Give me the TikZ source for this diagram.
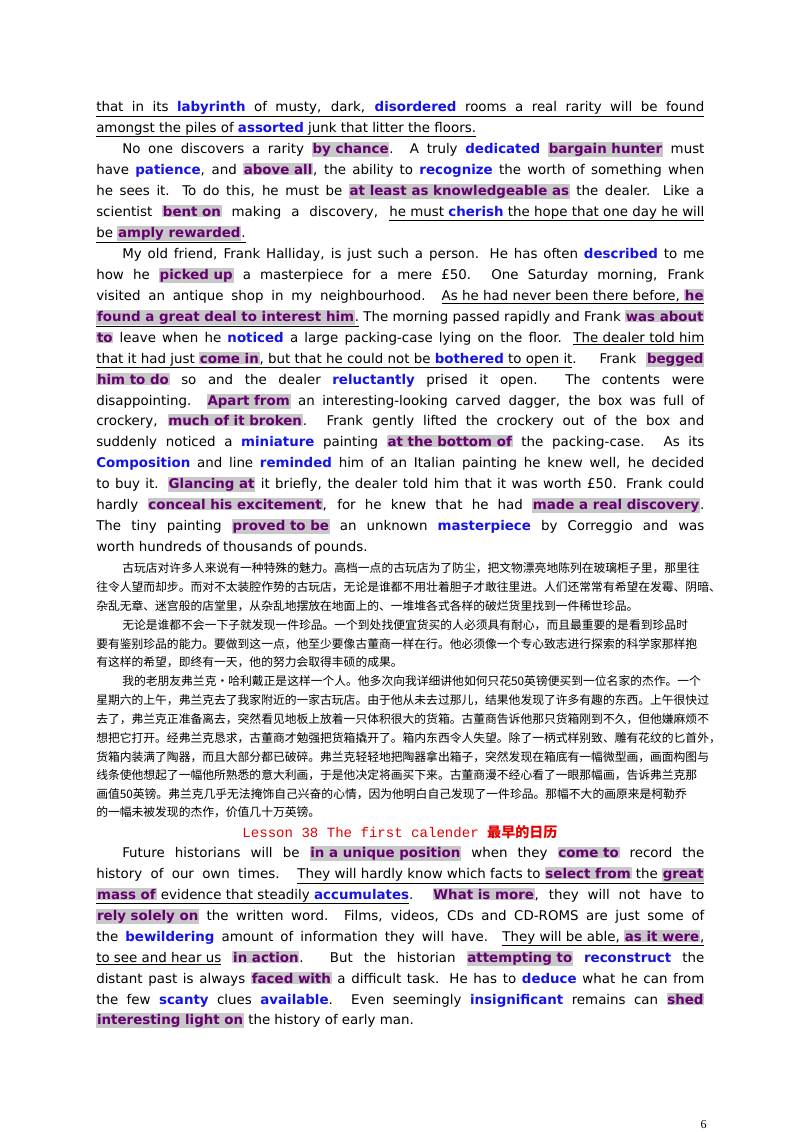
\documentclass[tikz,border=0pt]{standalone}
\usepackage{fontspec}
\usepackage{xcolor}
\setmainfont{DejaVu Sans}
\newfontfamily\cjk{Noto Sans CJK SC}
\newfontfamily\mono{Liberation Mono}
\newfontfamily\pgnum{Liberation Serif}
\definecolor{kwblue}{RGB}{20,20,230}
\definecolor{hlpurple}{RGB}{100,0,110}
\definecolor{hlgray}{RGB}{200,200,200}
\definecolor{headred}{RGB}{230,0,0}
\setlength{\fboxsep}{0.6pt}
\newcommand\kw[1]{\textcolor{kwblue}{\textbf{#1}}}
\newcommand\hlt[1]{\colorbox{hlgray}{\textcolor{hlpurple}{\textbf{#1}}}}
\newcommand\uln[1]{$\underline{\hbox{#1}}$}
\newcommand\fl[1]{\makebox[15.96cm][s]{#1}}
\newcommand\il[1]{\makebox[15.28cm][s]{#1}}
\newcommand\cl[1]{\makebox[15.96cm][s]{\XeTeXlinebreaklocale "zh"\XeTeXlinebreakskip=0pt plus 3pt minus 0.3pt #1}}
\newcommand\ci[1]{\makebox[15.28cm][s]{\XeTeXlinebreaklocale "zh"\XeTeXlinebreakskip=0pt plus 3pt minus 0.3pt #1}}
\tikzset{
  eng/.style={anchor=base west, inner sep=0pt, font=\fontsize{10}{12}\selectfont},
  chn/.style={anchor=base west, inner sep=0pt, font=\cjk\fontsize{8.8}{10}\selectfont},
  head/.style={anchor=base, inner sep=0pt, text=headred, font=\mono\fontsize{10.5}{12}\selectfont},
}
\begin{document}
\begin{tikzpicture}[x=0.02625cm, y=-0.02625cm]
  \useasboundingbox[fill=white] (0,0) rectangle (800,1132);

  % first English passage
  \node[eng] (e1) at (96,111) {\uln{\fl{that in its \kw{labyrinth} of musty, dark, \kw{disordered} rooms a real rarity will be found}}};
  \node[eng] (e2) at (96,132) {\uln{amongst the piles of \kw{assorted} junk that litter the floors.}};
  \node[eng] (e3) at (122,153) {\il{No one discovers a rarity \hlt{by chance}. A truly \kw{dedicated} \hlt{bargain hunter} must}};
  \node[eng] (e4) at (96,174) {\fl{have \kw{patience}, and \hlt{above all}, the ability to \kw{recognize} the worth of something when}};
  \node[eng] (e5) at (96,195) {\fl{he sees it. To do this, he must be \hlt{at least as knowledgeable as} the dealer. Like a}};
  \node[eng] (e6) at (96,216) {\fl{scientist \hlt{bent on} making a discovery, \uln{he must \kw{cherish} the hope that one day he will}}};
  \node[eng] (e7) at (96,237) {\uln{be \hlt{amply rewarded}.}};
  \node[eng] (e8) at (122,258) {\il{My old friend, Frank Halliday, is just such a person. He has often \kw{described} to me}};
  \node[eng] (e9) at (96,279) {\fl{how he \hlt{picked up} a masterpiece for a mere £50. One Saturday morning, Frank}};
  \node[eng] (e10) at (96,300) {\fl{visited an antique shop in my neighbourhood. \uln{As he had never been there before, \hlt{he}}}};
  \node[eng] (e11) at (96,321) {\fl{\uln{\hlt{found a great deal to interest him}.} The morning passed rapidly and Frank \hlt{was about}}};
  \node[eng] (e12) at (96,342) {\fl{\hlt{to} leave when he \kw{noticed} a large packing-case lying on the floor. \uln{The dealer told him}}};
  \node[eng] (e13) at (96,363) {\fl{\uln{that it had just \hlt{come in}, but that he could not be \kw{bothered} to open it}. Frank \hlt{begged}}};
  \node[eng] (e14) at (96,384) {\fl{\hlt{him to do} so and the dealer \kw{reluctantly} prised it open. The contents were}};
  \node[eng] (e15) at (96,405) {\fl{disappointing. \hlt{Apart from} an interesting-looking carved dagger, the box was full of}};
  \node[eng] (e16) at (96,425) {\fl{crockery, \hlt{much of it broken}. Frank gently lifted the crockery out of the box and}};
  \node[eng] (e17) at (96,446) {\fl{suddenly noticed a \kw{miniature} painting \hlt{at the bottom of} the packing-case. As its}};
  \node[eng] (e18) at (96,467) {\fl{\kw{Composition} and line \kw{reminded} him of an Italian painting he knew well, he decided}};
  \node[eng] (e19) at (96,488) {\fl{to buy it. \hlt{Glancing at} it briefly, the dealer told him that it was worth £50. Frank could}};
  \node[eng] (e20) at (96,509) {\fl{hardly \hlt{conceal his excitement}, for he knew that he had \hlt{made a real discovery}.}};
  \node[eng] (e21) at (96,530) {\fl{The tiny painting \hlt{proved to be} an unknown \kw{masterpiece} by Correggio and was}};
  \node[eng] (e22) at (96,551) {worth hundreds of thousands of pounds.};

  % Chinese translation
  \node[chn] (c1) at (122,572) {\ci{古玩店对许多人来说有一种特殊的魅力。高档一点的古玩店为了防尘，把文物漂亮地陈列在玻璃柜子里，那里往}};
  \node[chn] (c2) at (96,591) {\cl{往令人望而却步。而对不太装腔作势的古玩店，无论是谁都不用壮着胆子才敢往里进。人们还常常有希望在发霉、阴暗、}};
  \node[chn] (c3) at (96,610) {杂乱无章、迷宫般的店堂里，从杂乱地摆放在地面上的、一堆堆各式各样的破烂货里找到一件稀世珍品。};
  \node[chn] (c4) at (122,629) {\ci{无论是谁都不会一下子就发现一件珍品。一个到处找便宜货买的人必须具有耐心，而且最重要的是看到珍品时}};
  \node[chn] (c5) at (96,648) {\cl{要有鉴别珍品的能力。要做到这一点，他至少要像古董商一样在行。他必须像一个专心致志进行探索的科学家那样抱}};
  \node[chn] (c6) at (96,666) {有这样的希望，即终有一天，他的努力会取得丰硕的成果。};
  \node[chn] (c7) at (122,685) {\ci{我的老朋友弗兰克·哈利戴正是这样一个人。他多次向我详细讲他如何只花50英镑便买到一位名家的杰作。一个}};
  \node[chn] (c8) at (96,704) {\cl{星期六的上午，弗兰克去了我家附近的一家古玩店。由于他从未去过那儿，结果他发现了许多有趣的东西。上午很快过}};
  \node[chn] (c9) at (96,723) {\cl{去了，弗兰克正准备离去，突然看见地板上放着一只体积很大的货箱。古董商告诉他那只货箱刚到不久，但他嫌麻烦不}};
  \node[chn] (c10) at (96,742) {\cl{想把它打开。经弗兰克恳求，古董商才勉强把货箱撬开了。箱内东西令人失望。除了一柄式样别致、雕有花纹的匕首外，}};
  \node[chn] (c11) at (96,761) {\cl{货箱内装满了陶器，而且大部分都已破碎。弗兰克轻轻地把陶器拿出箱子，突然发现在箱底有一幅微型画，画面构图与}};
  \node[chn] (c12) at (96,779) {\cl{线条使他想起了一幅他所熟悉的意大利画，于是他决定将画买下来。古董商漫不经心看了一眼那幅画，告诉弗兰克那}};
  \node[chn] (c13) at (96,798) {\cl{画值50英镑。弗兰克几乎无法掩饰自己兴奋的心情，因为他明白自己发现了一件珍品。那幅不大的画原来是柯勒乔}};
  \node[chn] (c14) at (96,816) {的一幅未被发现的杰作，价值几十万英镑。};

  % lesson heading
  \node[head] (title) at (400,837) {Lesson 38 The first calender {\cjk\bfseries 最早的日历}};

  % second English passage
  \node[eng] (f1) at (122,857) {\il{Future historians will be \hlt{in a unique position} when they \hlt{come to} record the}};
  \node[eng] (f2) at (96,878) {\fl{history of our own times. \uln{They will hardly know which facts to \hlt{select from} the \hlt{great}}}};
  \node[eng] (f3) at (96,899) {\fl{\uln{\hlt{mass of} evidence that steadily \kw{accumulates}}. \hlt{What is more}, they will not have to}};
  \node[eng] (f4) at (96,920) {\fl{\hlt{rely solely on} the written word. Films, videos, CDs and CD-ROMS are just some of}};
  \node[eng] (f5) at (96,941) {\fl{the \kw{bewildering} amount of information they will have. \uln{They will be able, \hlt{as it were},}}};
  \node[eng] (f6) at (96,962) {\fl{\uln{to see and hear us} \hlt{in action}. But the historian \hlt{attempting to} \kw{reconstruct} the}};
  \node[eng] (f7) at (96,983) {\fl{distant past is always \hlt{faced with} a difficult task. He has to \kw{deduce} what he can from}};
  \node[eng] (f8) at (96,1004) {\fl{the few \kw{scanty} clues \kw{available}. Even seemingly \kw{insignificant} remains can \hlt{shed}}};
  \node[eng] (f9) at (96,1024) {\hlt{interesting light on} the history of early man.};

  \node[anchor=base east, inner sep=0pt, font=\pgnum\fontsize{9}{10}\selectfont] (page) at (707,1128) {6};
\end{tikzpicture}
\end{document}
